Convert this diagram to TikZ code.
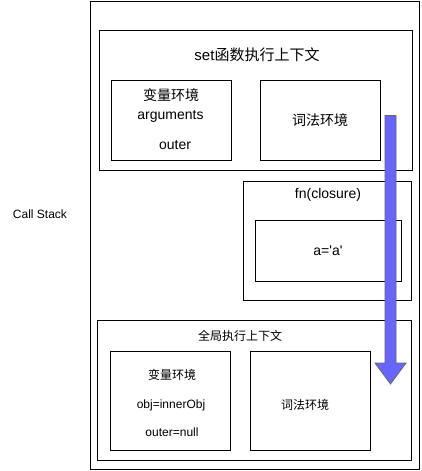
\documentclass[tikz,border=0pt]{standalone}
\usepackage{fontspec}
\setmainfont{Liberation Sans}[Ligatures=TeXOff]
\newfontfamily\cjk{Noto Sans CJK SC}
\definecolor{arrowblue}{HTML}{6666FF}
\definecolor{arrowline}{HTML}{666666}
\begin{document}
\begin{tikzpicture}[x=1pt,y=-1pt,
  box/.style={draw=black,line width=1pt,rectangle,inner sep=0pt,anchor=center},
  txt/.style={inner sep=0pt,anchor=center,font=\fontsize{14}{16}\selectfont},
  stxt/.style={inner sep=0pt,anchor=center,font=\fontsize{12}{14}\selectfont},
  ttl/.style={inner sep=0pt,anchor=center,font=\fontsize{15}{17}\selectfont}]
\useasboundingbox (0,0) rectangle (421,471);
\fill[white] (0,0) rectangle (421,471);
% outer call stack
\node[box,minimum width=329pt,minimum height=468.5pt] (stack) at (255,235.25) {};
\node[stxt] (stacklbl) at (40,214) {Call Stack};
% set context
\node[box,minimum width=313pt,minimum height=140pt] (setctx) at (255.5,100) {};
\node[ttl] (settitle) at (257,55) {set{\cjk 函数执行上下文}};
\node[box,minimum width=120pt,minimum height=80pt] (setvar) at (171,120) {};
\node[txt] (setvar1) at (171,95) {\cjk 变量环境};
\node[txt] (setvar2) at (170.5,116) {arguments};
\node[txt] (setvar3) at (175,145) {outer};
\node[box,minimum width=120pt,minimum height=80pt] (setlex) at (320,120) {};
\node[txt] (setlex1) at (320,120) {\cjk 词法环境};
% fn closure
\node[box,minimum width=168pt,minimum height=119pt] (fn) at (327,240.5) {};
\node[txt] (fntitle) at (328,195) {fn(closure)};
\node[box,minimum width=146pt,minimum height=61pt] (abox) at (328,250.5) {};
\node[txt] (atxt) at (328,251) {a='a'};
% global context
\node[box,minimum width=314pt,minimum height=140pt] (glob) at (254,390) {};
\node[stxt] (globtitle) at (240,336) {\cjk 全局执行上下文};
\node[box,minimum width=120pt,minimum height=99pt] (globvar) at (170,400.5) {};
\node[stxt] (globvar1) at (172,375) {\cjk 变量环境};
\node[stxt] (globvar2) at (171,405) {obj=innerObj};
\node[stxt] (globvar3) at (172,432) {outer=null};
\node[box,minimum width=120pt,minimum height=99pt] (globlex) at (310,400.5) {};
\node[stxt] (globlex1) at (305,405) {\cjk 词法环境};
% block arrow
\draw[fill=arrowblue,draw=arrowline,line width=0.8pt,line join=miter]
  (385,115.5) -- (396,115.5) -- (396,363) -- (406,363) -- (390.5,384)
  -- (375,363) -- (385,363) -- cycle;
\end{tikzpicture}
\end{document}
